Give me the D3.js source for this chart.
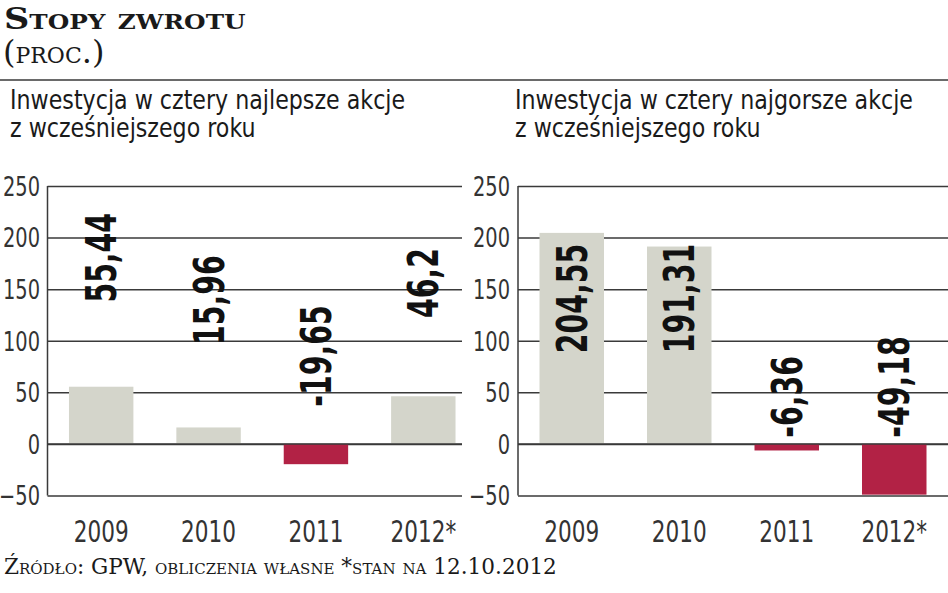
<!DOCTYPE html>
<html>
<head>
<meta charset="utf-8">
<script src="https://cdn.jsdelivr.net/npm/d3@7"></script>
<style>
html,body{margin:0;padding:0;background:#fff;}
svg{display:block;}
</style>
</head>
<body>
<svg id="chart" width="948" height="593"></svg>
<script>
// ---- data ----
const title = "Stopy zwrotu";
const unit = "(proc.)";
const source = "Źródło: GPW, obliczenia własne *stan na 12.10.2012";
const categories = ["2009", "2010", "2011", "2012*"];
const bestTitle = ["Inwestycja w cztery najlepsze akcje", "z wcześniejszego roku"];
const worstTitle = ["Inwestycja w cztery najgorsze akcje", "z wcześniejszego roku"];
const bestValues = [55.44, 15.96, -19.65, 46.2];
const worstValues = [204.55, 191.31, -6.36, -49.18];
const yTicks = [-50, 0, 50, 100, 150, 200, 250];

// ---- layout (label anchor levels, in axis units) ----
const bestLabelAt = [137, 96, 36, 122];
const worstLabelAt = [88, 88, 6, 6];

const NARROW = "'DejaVu Sans Condensed','DejaVu Sans',sans-serif";
const SERIF = "'DejaVu Serif','Liberation Serif',serif";
const POS = "#d4d5cb", NEG = "#b22245", GRID = "#3a3a3a";

const svg = d3.select("#chart");

svg.append("text").attr("transform", "translate(4,29) scale(1.17,1)")
  .attr("font-family", SERIF).attr("font-weight", "bold").attr("font-size", 30)
  .style("font-variant", "small-caps").attr("fill", "#1a1a1a").text(title);
svg.append("text").attr("transform", "translate(3,63) scale(1,1)")
  .attr("font-family", SERIF).attr("font-size", 32)
  .style("font-variant", "small-caps").attr("fill", "#1a1a1a").text(unit);
svg.append("line").attr("x1", 0).attr("x2", 948).attr("y1", 80).attr("y2", 80)
  .attr("stroke", "#6a6a6a").attr("stroke-width", 2);

const y = d3.scaleLinear().domain([-50, 250]).range([495.5, 186]);

function panel(x0, x1, gridEnd, labelX, sub, values, labelAt, subX) {
  const g = svg.append("g");
  sub.forEach((s, i) => g.append("text")
    .attr("transform", `translate(${subX},${109 + i * 28}) scale(0.93,1)`)
    .attr("font-family", NARROW).attr("font-size", 26.5).attr("fill", "#1a1a1a").text(s));
  const x = d3.scaleBand().domain(categories).range([x0, x1]).paddingInner(0.4).paddingOuter(0.2);
  // grid
  const axis = d3.axisLeft(y).tickValues(yTicks).tickSize(-(gridEnd - x0)).tickPadding(0).tickFormat(d3.format("d"));
  const ag = g.append("g").attr("transform", `translate(${x0},0)`).call(axis);
  ag.select(".domain").remove();
  ag.selectAll(".tick line").attr("stroke", GRID).attr("stroke-width", 1.5);
  ag.selectAll(".tick text").attr("x", 0).attr("dy", "0.36em")
    .attr("transform", `translate(${labelX - x0},0) scale(0.83,1)`)
    .attr("font-family", NARROW).attr("font-size", 26).attr("fill", "#333").attr("text-anchor", "end");
  // bars
  g.selectAll("rect.bar").data(values).join("rect").attr("class", "bar")
    .attr("x", (d, i) => x(categories[i])).attr("width", x.bandwidth())
    .attr("y", d => y(Math.max(0, d))).attr("height", d => Math.abs(y(d) - y(0)))
    .attr("fill", d => d >= 0 ? POS : NEG);
  // zero line over bars
  g.append("line").attr("x1", x0).attr("x2", gridEnd).attr("y1", y(0)).attr("y2", y(0))
    .attr("stroke", GRID).attr("stroke-width", 1.5);
  // vertical axis
  g.append("line").attr("x1", x0).attr("x2", x0).attr("y1", y(250)).attr("y2", y(-50))
    .attr("stroke", GRID).attr("stroke-width", 1.5);
  // value labels
  g.selectAll("text.val").data(values).join("text").attr("class", "val")
    .attr("transform", (d, i) => `translate(${x(categories[i]) + x.bandwidth() / 2 + 15},${y(labelAt[i])}) rotate(-90) scale(0.75,1)`)
    .attr("font-family", NARROW).attr("font-weight", "bold").attr("font-size", 42).attr("fill", "#111")
    .text(d => String(d).replace(".", ","));
  // x labels
  g.selectAll("text.cat").data(categories).join("text").attr("class", "cat")
    .attr("transform", d => `translate(${x(d) + x.bandwidth() / 2},542) scale(0.8,1)`)
    .attr("text-anchor", "middle")
    .attr("font-family", NARROW).attr("font-size", 30).attr("fill", "#333").text(d => d);
}

panel(47.5, 477, 462, 40, bestTitle, bestValues, bestLabelAt, 10);
panel(518, 948, 948, 510, worstTitle, worstValues, worstLabelAt, 515);

svg.append("text").attr("x", 4).attr("y", 574)
  .attr("font-family", SERIF).attr("font-size", 21.6)
  .style("font-variant", "small-caps").attr("fill", "#1a1a1a").text(source);
</script>
</body>
</html>
